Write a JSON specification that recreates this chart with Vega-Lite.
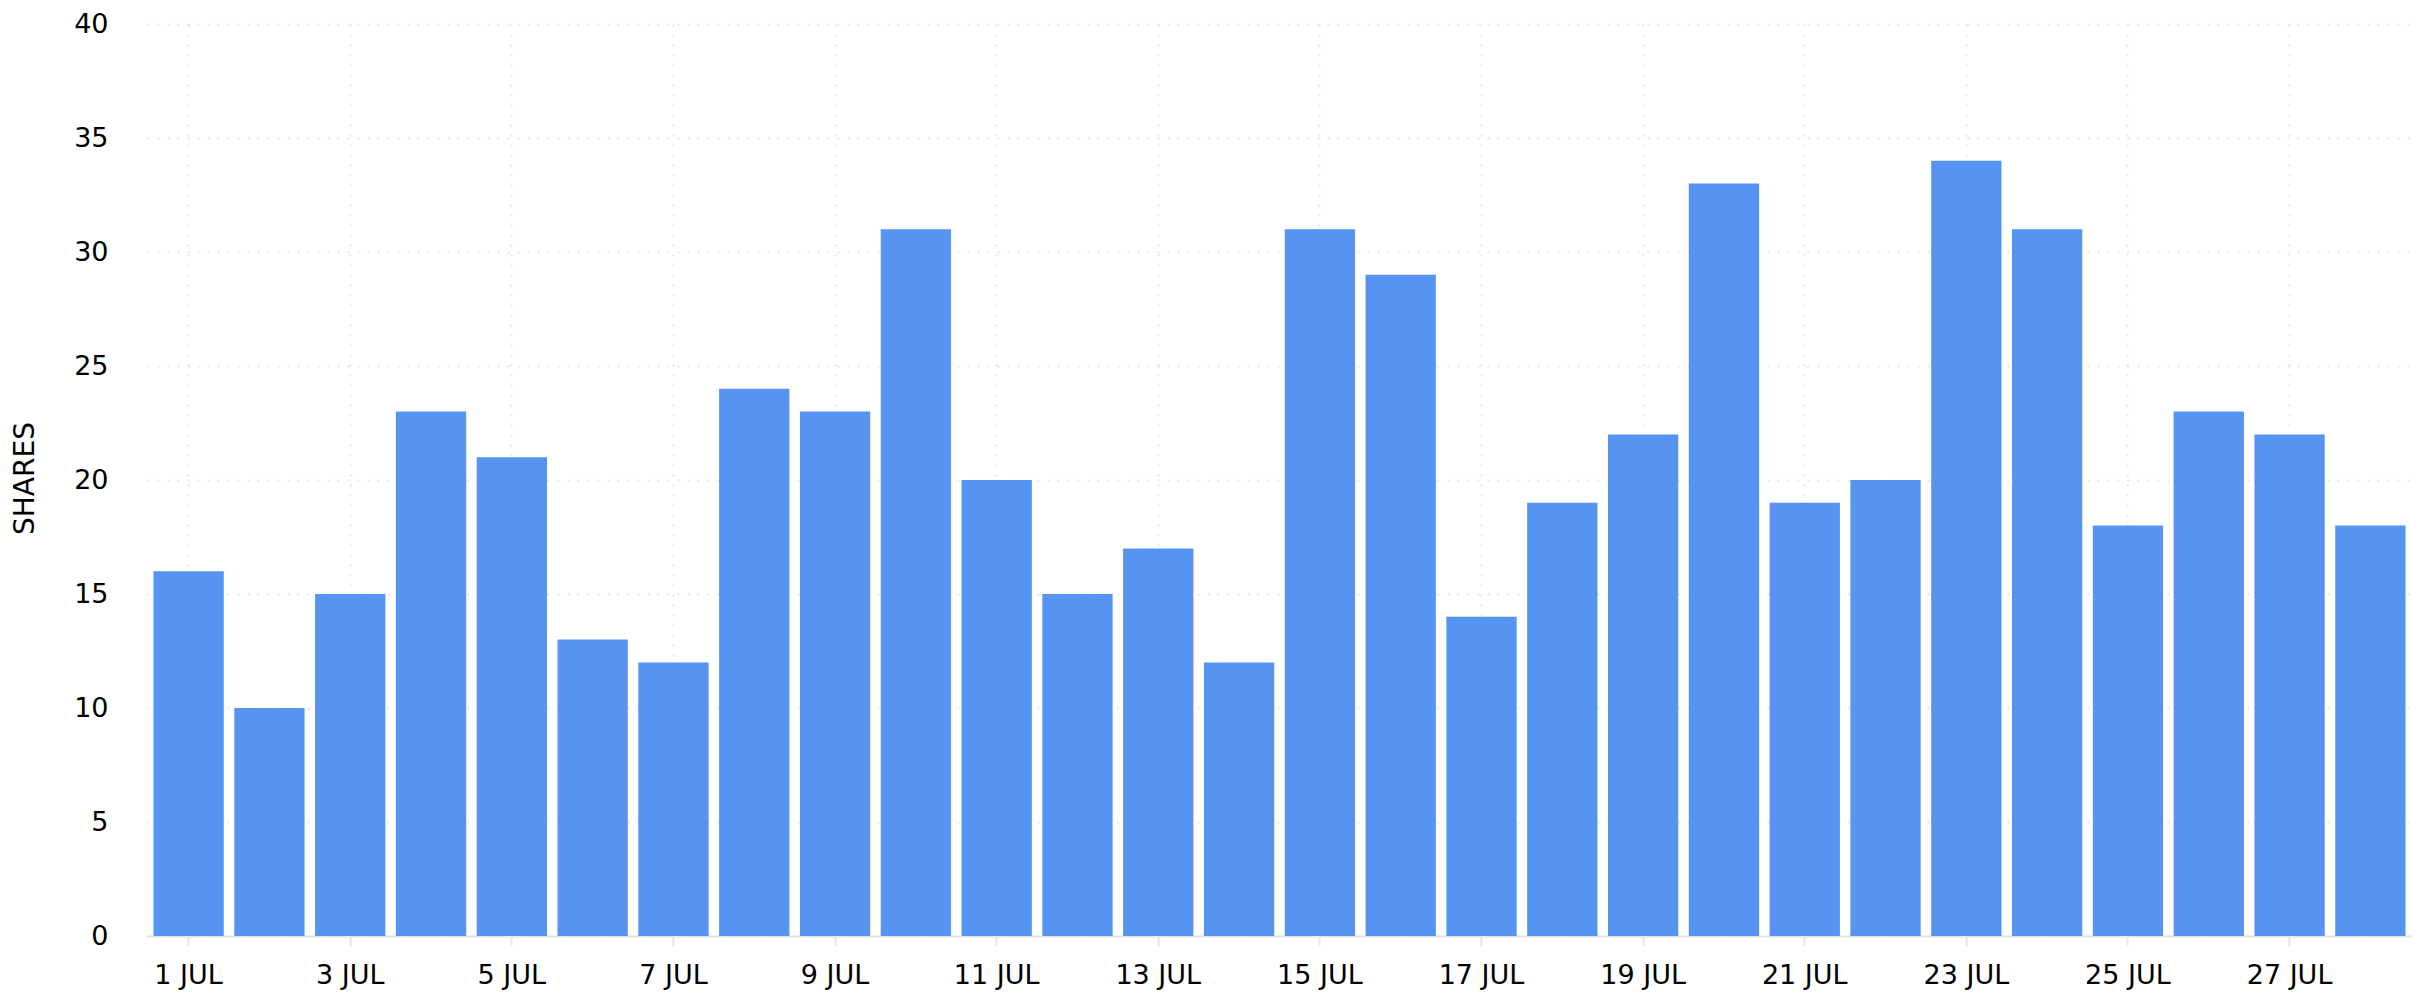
{
  "$schema": "https://vega.github.io/schema/vega-lite/v6.json",
  "autosize": {"type": "none"},
  "padding": {"left": 147, "top": 24, "right": 13, "bottom": 64},
  "width": 2265,
  "height": 912,
  "background": "white",
  "data": {
    "values": [
      {"date": "1 JUL", "shares": 16},
      {"date": "2 JUL", "shares": 10},
      {"date": "3 JUL", "shares": 15},
      {"date": "4 JUL", "shares": 23},
      {"date": "5 JUL", "shares": 21},
      {"date": "6 JUL", "shares": 13},
      {"date": "7 JUL", "shares": 12},
      {"date": "8 JUL", "shares": 24},
      {"date": "9 JUL", "shares": 23},
      {"date": "10 JUL", "shares": 31},
      {"date": "11 JUL", "shares": 20},
      {"date": "12 JUL", "shares": 15},
      {"date": "13 JUL", "shares": 17},
      {"date": "14 JUL", "shares": 12},
      {"date": "15 JUL", "shares": 31},
      {"date": "16 JUL", "shares": 29},
      {"date": "17 JUL", "shares": 14},
      {"date": "18 JUL", "shares": 19},
      {"date": "19 JUL", "shares": 22},
      {"date": "20 JUL", "shares": 33},
      {"date": "21 JUL", "shares": 19},
      {"date": "22 JUL", "shares": 20},
      {"date": "23 JUL", "shares": 34},
      {"date": "24 JUL", "shares": 31},
      {"date": "25 JUL", "shares": 18},
      {"date": "26 JUL", "shares": 23},
      {"date": "27 JUL", "shares": 22},
      {"date": "28 JUL", "shares": 18}
    ]
  },
  "mark": {"type": "bar", "color": "#5794F2"},
  "encoding": {
    "x": {
      "field": "date",
      "type": "ordinal",
      "sort": null,
      "scale": {"paddingInner": 0.13, "paddingOuter": 0.08},
      "axis": {
        "title": null,
        "values": ["1 JUL", "3 JUL", "5 JUL", "7 JUL", "9 JUL", "11 JUL", "13 JUL", "15 JUL", "17 JUL", "19 JUL", "21 JUL", "23 JUL", "25 JUL", "27 JUL"],
        "labelAngle": 0,
        "labelFont": "DejaVu Sans",
        "labelFontSize": 27,
        "labelColor": "#000000",
        "labelPadding": 16,
        "domainColor": "#e6e6e6",
        "domainWidth": 2,
        "tickColor": "#e6e6e6",
        "tickWidth": 2,
        "tickSize": 10,
        "grid": true,
        "gridColor": "#e3e3e3",
        "gridDash": [2, 8],
        "gridWidth": 2
      }
    },
    "y": {
      "field": "shares",
      "type": "quantitative",
      "scale": {"domain": [0, 40], "nice": false},
      "axis": {
        "title": "SHARES",
        "titleFont": "DejaVu Sans",
        "titleFontSize": 28,
        "titleFontWeight": "normal",
        "titleColor": "#000000",
        "titleAngle": 270,
        "titleBaseline": "alphabetic",
        "titleAlign": "center",
        "titleX": -114,
        "titleY": 454,
        "values": [0, 5, 10, 15, 20, 25, 30, 35, 40],
        "labelFont": "DejaVu Sans",
        "labelFontSize": 27,
        "labelColor": "#000000",
        "labelPadding": 39,
        "domain": false,
        "ticks": false,
        "grid": true,
        "gridColor": "#e3e3e3",
        "gridDash": [2, 8],
        "gridWidth": 2
      }
    }
  },
  "config": {"view": {"stroke": null}}
}
